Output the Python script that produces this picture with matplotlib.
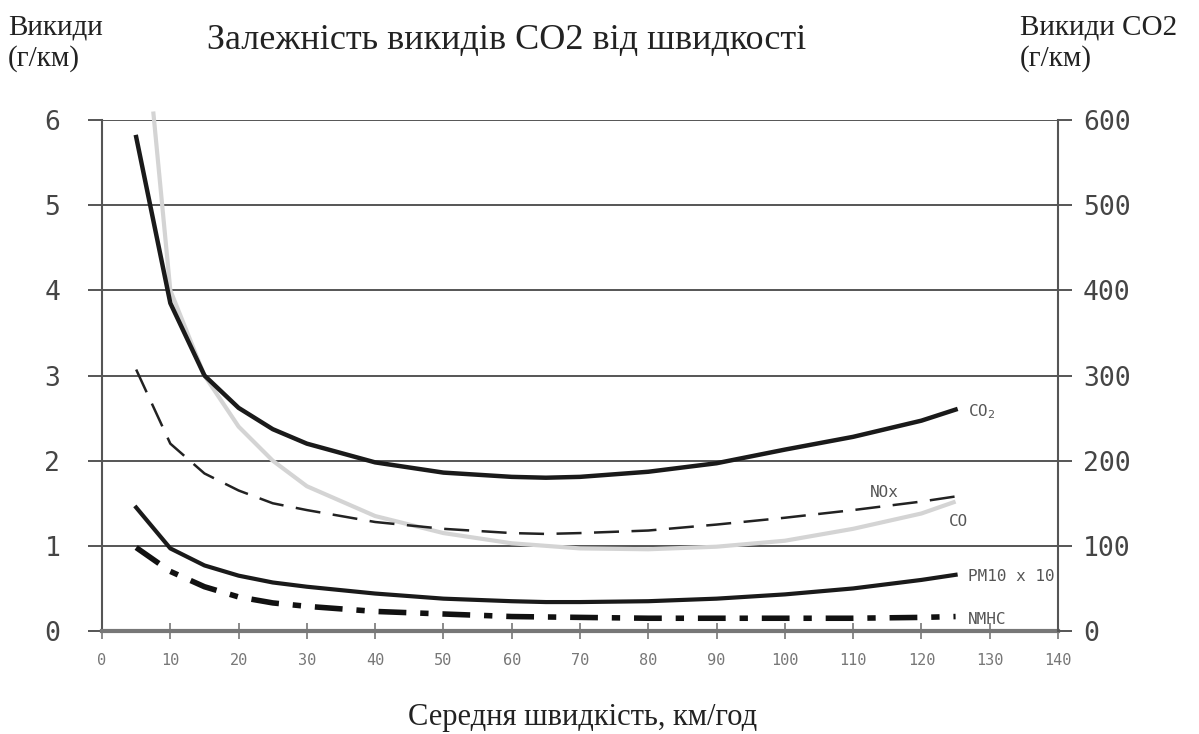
import matplotlib
matplotlib.use("Agg")
import matplotlib.pyplot as plt

# ---- data ----
speed = [5, 10, 15, 20, 25, 30, 40, 50, 60, 65, 70, 80, 90, 100, 110, 120, 125]
co2 = [580, 385, 300, 262, 237, 220, 198, 186, 181, 180, 181, 187, 197, 213, 228, 247, 260]
nox = [3.07, 2.2, 1.85, 1.65, 1.5, 1.42, 1.28, 1.2, 1.15, 1.14, 1.15, 1.18, 1.25, 1.33, 1.42, 1.52, 1.58]
pm10x10 = [1.45, 0.97, 0.77, 0.65, 0.57, 0.52, 0.44, 0.38, 0.35, 0.34, 0.34, 0.35, 0.38, 0.43, 0.5, 0.6, 0.66]
nmhc = [0.98, 0.7, 0.52, 0.4, 0.33, 0.29, 0.23, 0.2, 0.17, 0.165, 0.16, 0.15, 0.15, 0.15, 0.15, 0.16, 0.17]
speed_co = [7.5, 10, 15, 20, 25, 30, 40, 50, 60, 70, 80, 90, 100, 110, 120, 125]
co = [6.1, 4.0, 3.0, 2.4, 2.0, 1.7, 1.35, 1.15, 1.03, 0.97, 0.96, 0.99, 1.06, 1.2, 1.38, 1.52]

left_ticks = [0, 1, 2, 3, 4, 5, 6]
right_ticks = [0, 100, 200, 300, 400, 500, 600]
x_ticks = list(range(0, 141, 10))

title = "Залежність викидів CO2 від швидкості"
left_label = "Викиди\n(г/км)"
right_label = "Викиди CO2\n(г/км)"
x_label = "Середня швидкість, км/год"

# ---- figure ----
fig = plt.figure(figsize=(11.99, 7.34), dpi=100)
ax = fig.add_axes([0.0851, 0.1403, 0.7973, 0.6962])
ax2 = ax.twinx()

grid_c = "#555555"
mono = "DejaVu Sans Mono"
serif = "Liberation Serif"

ax.set_xlim(0, 140)
ax.set_ylim(0, 6)
ax2.set_ylim(0, 600)

for y in left_ticks[1:]:
    ax.axhline(y, color=grid_c, lw=1.4, zorder=1)

ax.plot(speed_co, co, color="#d4d4d4", lw=3, zorder=2, clip_on=False, solid_capstyle="butt")
ax.plot(speed, nox, color="#222222", lw=1.8, dashes=(10, 5), zorder=3)
ax.plot(speed, pm10x10, color="#1a1a1a", lw=3, zorder=3)
ax.plot(speed, nmhc, color="#111111", lw=4, dashes=(5, 2.5, 1.5, 2.5), zorder=3)
ax2.plot(speed, co2, color="#1a1a1a", lw=3.2, zorder=3)

# spines
for a in (ax, ax2):
    a.spines["top"].set_visible(False)
ax.spines["left"].set_color(grid_c)
ax.spines["left"].set_linewidth(1.5)
ax2.spines["right"].set_color(grid_c)
ax2.spines["right"].set_linewidth(1.5)
ax.spines["bottom"].set_color("#777777")
ax.spines["bottom"].set_linewidth(3)
ax2.spines["bottom"].set_visible(False)
ax2.spines["left"].set_visible(False)
ax.spines["right"].set_visible(False)

tick_txt = "#454545"
ax.set_yticks(left_ticks)
ax.set_yticklabels([str(t) for t in left_ticks], fontfamily=mono, fontsize=19, color=tick_txt)
ax.tick_params(axis="y", direction="out", length=10, width=1.4, color=grid_c, pad=20)

ax2.set_yticks(right_ticks)
ax2.set_yticklabels([str(t) for t in right_ticks], fontfamily=mono, fontsize=19, color=tick_txt)
ax2.tick_params(axis="y", direction="out", length=10, width=1.4, color=grid_c, pad=8)

ax.set_xticks(x_ticks)
ax.set_xticklabels([str(t) for t in x_ticks], fontfamily=mono, fontsize=11, color="#777777")
ax.tick_params(axis="x", direction="inout", length=12, width=1.2, color="#777777", pad=10)

# series labels
lab_kw = dict(fontfamily=mono, fontsize=11.5, color="#555555", va="center", ha="left")
ax.text(126.8, 2.58, "CO$_2$", **lab_kw)
ax.text(112.5, 1.63, "NOx", **lab_kw)
ax.text(124.0, 1.29, "CO", **lab_kw)
ax.text(126.8, 0.64, "PM10 x 10", **lab_kw)
ax.text(126.8, 0.14, "NMHC", **lab_kw)

# texts
fig.text(507 / 1199, 1 - 40 / 734, title, fontfamily=serif, fontsize=26, ha="center", va="center", color="#222222")
fig.text(8 / 1199, 1 - 43 / 734, left_label, fontfamily=serif, fontsize=21, ha="left", va="center", color="#222222", linespacing=1.2)
fig.text(1020 / 1199, 1 - 43 / 734, right_label, fontfamily=serif, fontsize=21, ha="left", va="center", color="#222222", linespacing=1.2)
fig.text(583 / 1199, 1 - 718 / 734, x_label, fontfamily=serif, fontsize=22, ha="center", va="center", color="#222222")

fig.savefig("out.png", dpi=100, facecolor="white")
